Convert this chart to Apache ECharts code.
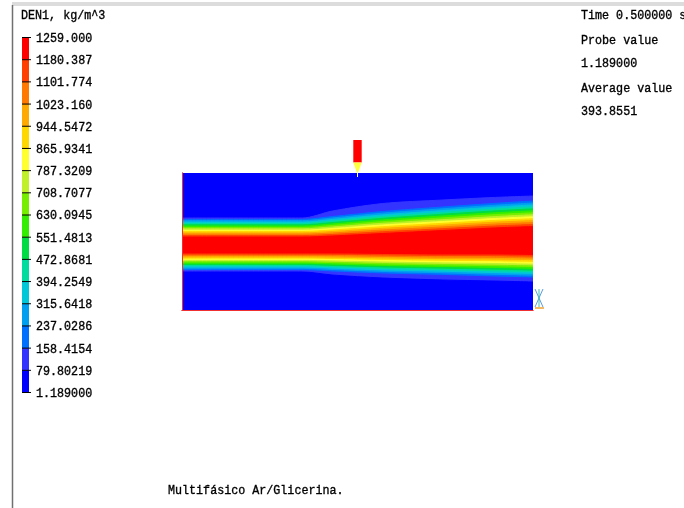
<!DOCTYPE html>
<html>
<head>
<meta charset="utf-8">
<script src="https://cdn.jsdelivr.net/npm/echarts@6/dist/echarts.min.js"></script>
<style>
  html, body { margin: 0; padding: 0; background: #fff; }
  #chart { width: 684px; height: 508px; }
</style>
</head>
<body>
<div id="chart"></div>
<script>
// Contour levels of DEN1 (kg/m^3), listed top to bottom as in the key
const levelLabels = [
  '1259.000', '1180.387', '1101.774', '1023.160', '944.5472', '865.9341',
  '787.3209', '708.7077', '630.0945', '551.4813', '472.8681', '394.2549',
  '315.6418', '237.0286', '158.4154', '79.80219', '1.189000'
];

// Fill colour of each band, lowest density first
const levelColors = [
  '#0000ff', '#3434ff', '#0070ff', '#00a0f0', '#00c8d8', '#00dca0',
  '#00dc44', '#33ee00', '#77ee00', '#bff02a', '#ffff30', '#ffd800',
  '#ffaa00', '#ff7a00', '#ff4000', '#ff0000'
];

// Stations along the channel (mm)
const stationsX = [0, 120, 150, 200, 260, 310, 350];

// Height (mm from bottom wall) of each contour level above the jet core, level 1..15
const upperEdge = [
  [92.5, 92.5, 99.5, 107.0, 110.5, 113.0, 114.5],
  [91.1, 91.1, 94.0, 99.0, 103.5, 107.0, 109.5],
  [89.8, 89.8, 92.5, 97.3, 101.7, 105.1, 107.5],
  [88.4, 88.4, 91.0, 95.6, 99.9, 103.2, 105.6],
  [87.1, 87.1, 89.5, 93.9, 98.1, 101.3, 103.6],
  [85.7, 85.7, 88.0, 92.2, 96.3, 99.5, 101.7],
  [84.4, 84.4, 86.5, 90.5, 94.5, 97.6, 99.7],
  [83.0, 83.0, 85.0, 88.8, 92.6, 95.7, 97.7],
  [81.7, 81.7, 83.5, 87.2, 90.8, 93.8, 95.8],
  [80.3, 80.3, 82.0, 85.5, 89.0, 91.9, 93.8],
  [79.0, 79.0, 80.5, 83.8, 87.2, 90.0, 91.8],
  [77.6, 77.6, 79.0, 82.1, 85.4, 88.2, 89.9],
  [76.3, 76.3, 77.5, 80.4, 83.6, 86.3, 87.9],
  [74.9, 74.9, 76.0, 78.7, 81.8, 84.4, 86.0],
  [73.5, 73.5, 74.5, 77.0, 80.0, 82.5, 84.0]
];

// Height of each contour level below the jet core, level 1..15
const lowerEdge = [
  [38.5, 38.5, 35.5, 32.5, 30.5, 29.5, 28.5],
  [39.8, 39.8, 38.5, 36.5, 35.0, 33.5, 32.5],
  [41.1, 41.1, 39.9, 38.0, 36.6, 35.2, 34.2],
  [42.4, 42.4, 41.3, 39.5, 38.2, 36.9, 36.0],
  [43.7, 43.7, 42.7, 41.0, 39.7, 38.6, 37.7],
  [44.9, 44.9, 44.0, 42.5, 41.3, 40.3, 39.4],
  [46.2, 46.2, 45.4, 44.0, 42.9, 42.0, 41.2],
  [47.5, 47.5, 46.8, 45.5, 44.5, 43.7, 42.9],
  [48.8, 48.8, 48.2, 47.0, 46.0, 45.3, 44.6],
  [50.1, 50.1, 49.6, 48.5, 47.6, 47.0, 46.3],
  [51.4, 51.4, 51.0, 50.0, 49.2, 48.7, 48.1],
  [52.6, 52.6, 52.3, 51.5, 50.8, 50.4, 49.8],
  [53.9, 53.9, 53.7, 53.0, 52.3, 52.1, 51.5],
  [55.2, 55.2, 55.1, 54.5, 53.9, 53.8, 53.3],
  [56.5, 56.5, 56.5, 56.0, 55.5, 55.5, 55.0]
];

const domainLength = 350;   // mm
const domainHeight = 137.5; // mm
const probePoint = [175, 133.5];

const titleText = 'DEN1, kg/m^3';
const infoLines = ['Time 0.500000 s', 'Probe value', '1.189000', 'Average value', '393.8551'];
const captionText = 'Multif\u00e1sico Ar/Glicerina.';

const FONT = '"Liberation Mono", "DejaVu Sans Mono", monospace';
const FONT_SIZE = 13;
const TEXT_SQUEEZE = 0.9;

// Bands are painted from the top down: each contour fills everything below it
const boundaries = [];
for (let k = 0; k < upperEdge.length; k++) {
  boundaries.push({ edge: upperEdge[k], color: levelColors[k + 1] });
}
for (let k = lowerEdge.length - 1; k >= 0; k--) {
  boundaries.push({ edge: lowerEdge[k], color: levelColors[k] });
}

const bandSeries = boundaries.map((b) => ({
  type: 'line',
  xAxisIndex: 0,
  yAxisIndex: 0,
  data: stationsX.map((x, j) => [x, b.edge[j]]),
  symbol: 'none',
  smooth: 0.3,
  lineStyle: { color: b.color, width: 1 },
  areaStyle: { color: b.color, opacity: 1, origin: 'start' },
  silent: true,
  z: 2
}));

// Colour key: one stacked block per band
const keySeries = levelColors.map((c) => ({
  type: 'bar',
  xAxisIndex: 2,
  yAxisIndex: 2,
  stack: 'key',
  data: [1],
  barWidth: '100%',
  itemStyle: { color: c },
  silent: true
}));

function textStyle(text) {
  return {
    x: 0, y: 0, text: text, fill: '#000', stroke: '#000', lineWidth: 0.35,
    font: FONT_SIZE + 'px ' + FONT, verticalAlign: 'middle', textAlign: 'left'
  };
}

// Key labels sit on the band boundaries, right of the bar
const keyLabelSeries = {
  type: 'custom',
  xAxisIndex: 2,
  yAxisIndex: 2,
  clip: false,
  silent: true,
  z: 12,
  data: levelLabels.map((t, i) => [0, levelLabels.length - 1 - i]),
  renderItem: function (params, api) {
    const p = api.coord([api.value(0), api.value(1)]);
    return {
      type: 'group',
      children: [
        { type: 'line', shape: { x1: p[0] - 3.5, y1: p[1], x2: p[0] + 5.5, y2: p[1] }, style: { stroke: '#000', lineWidth: 1 } },
        { type: 'text', x: p[0] + 10.5, y: p[1] + 1, scaleX: TEXT_SQUEEZE, style: textStyle(levelLabels[params.dataIndex]) }
      ]
    };
  }
};

const probeSeries = {
  type: 'custom',
  xAxisIndex: 0,
  yAxisIndex: 0,
  clip: false,
  silent: true,
  z: 20,
  data: [probePoint],
  renderItem: function (params, api) {
    const p = api.coord([api.value(0), api.value(1)]);
    return {
      type: 'group',
      children: [
        { type: 'rect', shape: { x: p[0] - 4.2, y: p[1] - 37, width: 8.4, height: 22.5 }, style: { fill: '#ff0000' } },
        { type: 'polygon', shape: { points: [[p[0] - 4.2, p[1] - 14.5], [p[0] + 4.2, p[1] - 14.5], [p[0] + 0.6, p[1] - 4.5], [p[0] - 0.6, p[1] - 4.5]] }, style: { fill: '#ffff40' } },
        { type: 'line', shape: { x1: p[0], y1: p[1] - 5, x2: p[0], y2: p[1] }, style: { stroke: '#ffffa0', lineWidth: 1 } }
      ]
    };
  }
};

const wallLine = { show: true, lineStyle: { color: '#f03030', width: 1 } };
const hidden = { show: false };

function domainX(position) {
  return { type: 'value', gridIndex: 0, min: 0, max: domainLength, position: position,
    axisLine: wallLine, axisTick: hidden, axisLabel: hidden, splitLine: hidden, z: 10 };
}
function domainY(position) {
  return { type: 'value', gridIndex: 0, min: 0, max: domainHeight, position: position,
    axisLine: wallLine, axisTick: hidden, axisLabel: hidden, splitLine: hidden, z: 10 };
}

const textEl = (x, y, text) => ({
  type: 'text', silent: true, x: x, y: y, scaleX: TEXT_SQUEEZE,
  style: textStyle(text)
});

const infoY = [16, 41, 64, 89, 112];

const chart = echarts.init(document.getElementById('chart'), null, { renderer: 'canvas' });
chart.setOption({
  animation: false,
  backgroundColor: '#ffffff',
  grid: [
    { left: 182, top: 173, width: 351, height: 137.5, show: true, backgroundColor: levelColors[0], borderWidth: 0 },
    { left: 22, top: 37.5, width: 7, height: 355 }
  ],
  xAxis: [
    domainX('bottom'),
    domainX('top'),
    { type: 'category', gridIndex: 1, data: ['DEN1'], show: false }
  ],
  yAxis: [
    domainY('left'),
    domainY('right'),
    {
      type: 'value', gridIndex: 1, min: 0, max: levelColors.length, interval: 1,
      axisLine: hidden, axisTick: hidden, axisLabel: hidden, splitLine: hidden
    }
  ],
  series: bandSeries.concat(keySeries, [keyLabelSeries, probeSeries]),
  graphic: [
    { type: 'rect', silent: true, shape: { x: 12, y: 2, width: 672, height: 4 }, style: { fill: '#dcdcdc' } },
    { type: 'line', silent: true, shape: { x1: 12.5, y1: 5, x2: 12.5, y2: 508 }, style: { stroke: '#707070', lineWidth: 1.5 } },
    textEl(21, 16, titleText),
    ...infoLines.map((t, i) => textEl(581, infoY[i], t)),
    textEl(168, 491, captionText),
    // coordinate triad at the outlet corner
    { type: 'line', silent: true, shape: { x1: 535, y1: 289, x2: 543, y2: 307 }, style: { stroke: '#5b9be0', lineWidth: 1 } },
    { type: 'line', silent: true, shape: { x1: 543, y1: 289, x2: 535, y2: 307 }, style: { stroke: '#5b9be0', lineWidth: 1 } },
    { type: 'line', silent: true, shape: { x1: 539, y1: 289, x2: 539, y2: 307 }, style: { stroke: '#40c0b0', lineWidth: 1 } },
    { type: 'line', silent: true, shape: { x1: 535, y1: 308, x2: 544, y2: 308 }, style: { stroke: '#f0a030', lineWidth: 1.5 } }
  ]
});
</script>
</body>
</html>
